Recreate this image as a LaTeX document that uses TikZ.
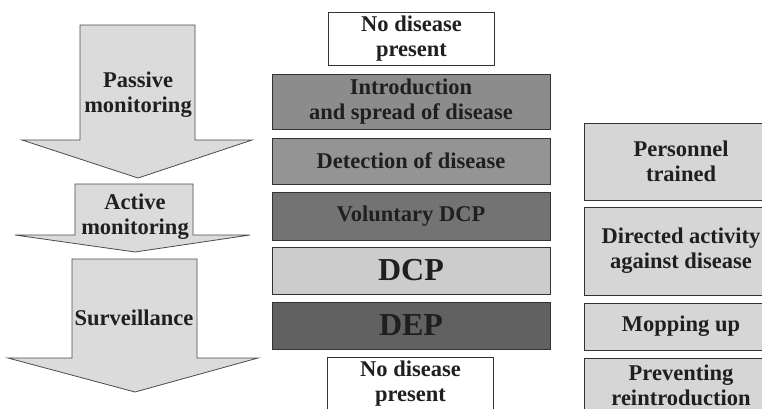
\documentclass[tikz,border=0pt]{standalone}
\usepackage{fontspec}
\setmainfont{Liberation Serif}
\begin{document}
\begin{tikzpicture}[x=1pt,y=-1pt,
  lbl/.style={font=\fontsize{22.5}{25}\selectfont\bfseries, align=center, text=black!88},
  biglbl/.style={font=\fontsize{32}{34}\selectfont\bfseries, align=center, text=black!88},
  box/.style={draw=black!80, line width=0.9pt, inner sep=0pt, minimum width=278pt},
  sidebox/.style={draw=black!80, line width=0.9pt, inner sep=0pt, minimum width=194pt, fill=black!16},
  whitebox/.style={draw=black!80, line width=0.9pt, inner sep=0pt, minimum width=166pt, fill=white},
  arrowshape/.style={draw=black!70, line width=0.8pt, fill=black!14, line join=miter}]
\useasboundingbox (0,0) rectangle (762,408);
\clip (0,0) rectangle (762,408);
\fill[white] (0,0) rectangle (762,408);

% left arrows
\draw[arrowshape] (80,25) -- (195,25) -- (195,140) -- (252,140) -- (138,178) -- (22,140) -- (80,140) -- cycle;
\draw[arrowshape] (75,184) -- (193,184) -- (193,235) -- (250,235) -- (135,252) -- (15,235) -- (75,235) -- cycle;
\draw[arrowshape] (72,259) -- (197,259) -- (197,358) -- (258,358) -- (135,392) -- (8,358) -- (72,358) -- cycle;
\node[lbl] (passive) at (138,95) {Passive\\monitoring};
\node[lbl] (active) at (135,217) {Active\\monitoring};
\node[lbl] (surv) at (134,318) {Surveillance};

% middle column
\node[whitebox, minimum height=53pt, lbl] (nd1) at (411.5,38.5) {No disease\\present};
\node[box, fill=black!45, minimum height=55pt, lbl] (intro) at (411,101.5) {Introduction\\and spread of disease};
\node[box, fill=black!42, minimum height=46pt, lbl] (detect) at (411,161) {Detection of disease};
\node[box, fill=black!55, minimum height=48pt, lbl] (vdcp) at (411,216) {Voluntary DCP};
\node[box, fill=black!20, minimum height=47pt, biglbl] (dcp) at (411,270.5) {DCP};
\node[box, fill=black!62, minimum height=47pt, biglbl] (dep) at (411,325.5) {DEP};
\node[whitebox, minimum height=54pt, lbl] (nd2) at (410.5,384) {No disease\\present};

% right column
\node[sidebox, minimum height=77pt, lbl] (pers) at (681,161.5) {Personnel\\trained};
\node[sidebox, minimum height=88pt, lbl] (dir) at (681,251) {Directed activity\\against disease};
\node[sidebox, minimum height=47pt, lbl] (mop) at (681,326.5) {Mopping up};
\node[sidebox, minimum height=54pt, lbl] (prev) at (681,385) {Preventing\\reintroduction};
\end{tikzpicture}
\end{document}
